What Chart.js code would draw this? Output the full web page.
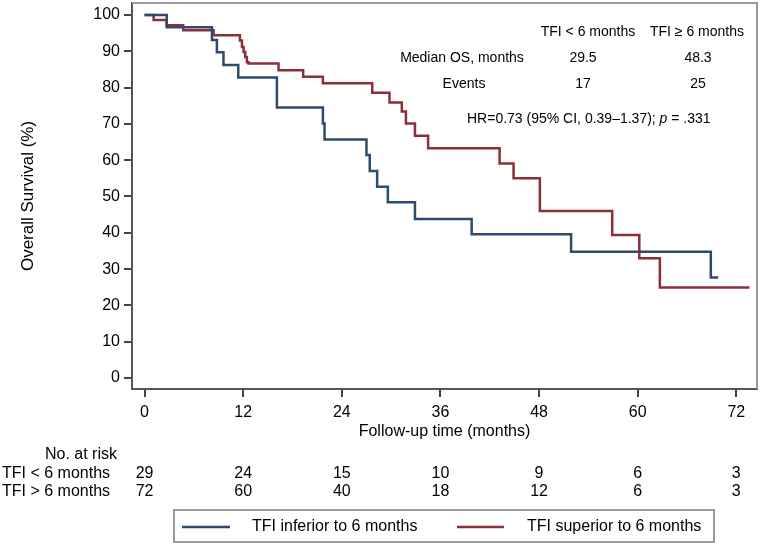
<!DOCTYPE html>
<html>
<head>
<meta charset="utf-8">
<script src="https://cdn.jsdelivr.net/npm/chart.js@4.4.1/dist/chart.umd.min.js"></script>
<style>
  html, body { margin: 0; padding: 0; background: #fff; }
  #wrap { width: 765px; height: 546px; }
</style>
</head>
<body>
<div id="wrap"><canvas id="km" width="765" height="546"></canvas></div>
<script>
// Kaplan-Meier overall survival by TFI group
const lowTimes = [0, 2.7, 8.2, 8.8, 9.6, 11.4, 16.1, 21.7, 21.9, 27.0, 27.4, 28.3, 29.6, 32.9, 39.8, 51.9, 68.9, 69.8];
const lowSurv  = [100, 96.6, 93.1, 89.7, 86.2, 82.8, 74.5, 70.1, 65.7, 61.4, 57.0, 52.7, 48.4, 43.8, 39.6, 34.8, 27.7, 27.7];

const highTimes = [0, 1.1, 2.7, 4.7, 8.4, 11.6, 11.85, 12.05, 12.25, 12.45, 12.65, 16.3, 19.3, 21.7, 27.7, 29.8, 31.3, 31.8, 32.9, 34.5, 43.2, 44.9, 48.1, 56.9, 60.2, 62.7, 73.6];
const highSurv  = [100, 98.6, 97.2, 95.8, 94.4, 93.0, 91.2, 89.8, 88.4, 87.0, 86.6, 84.8, 83.0, 81.2, 78.6, 75.9, 73.4, 70.1, 66.7, 63.3, 59.1, 55.0, 46.0, 39.4, 33.0, 24.9, 24.9];

const xTicks = [0, 12, 24, 36, 48, 60, 72];
const yTicks = [0, 10, 20, 30, 40, 50, 60, 70, 80, 90, 100];

// number at risk table
const riskTimes = [0, 12, 24, 36, 48, 60, 72];
const riskLow   = [29, 24, 15, 10, 9, 6, 3];
const riskHigh  = [72, 60, 40, 18, 12, 6, 3];
const riskLabels = ['TFI < 6 months', 'TFI > 6 months'];

const legendLabels = ['TFI inferior to 6 months', 'TFI superior to 6 months'];
const seriesColors = ['#2d4a6f', '#8d2f3b'];

// summary box
const groupHeads = ['TFI < 6 months', 'TFI \u2265 6 months'];
const medianOS = ['29.5', '48.3'];
const events = ['17', '25'];

const FONT = "'Liberation Sans', Arial, Helvetica, sans-serif";

function toPoints(ts, vs){
  return ts.map((t,i)=>({x:t, y:vs[i]}));
}

// draws the frame, summary text, risk table and legend
const overlay = {
  id: 'overlay',
  afterDraw(chart){
    const ctx = chart.ctx;
    const a = chart.chartArea;
    const xs = chart.scales.x;
    ctx.save();

    // top and right edge of plot region
    ctx.strokeStyle = '#999';
    ctx.lineWidth = 2;
    ctx.beginPath();
    ctx.moveTo(a.left, a.top);
    ctx.lineTo(a.right, a.top);
    ctx.lineTo(a.right, a.bottom);
    ctx.stroke();

    ctx.fillStyle = '#000';
    ctx.textBaseline = 'middle';

    // summary table
    ctx.font = '14px ' + FONT;
    ctx.textAlign = 'center';
    ctx.fillText(groupHeads[0], 588, 32);
    ctx.fillText(groupHeads[1], 697, 32);
    ctx.fillText('Median OS, months', 462, 58);
    ctx.fillText(medianOS[0], 583, 58);
    ctx.fillText(medianOS[1], 698, 58);
    ctx.fillText('Events', 464, 84);
    ctx.fillText(events[0], 583, 84);
    ctx.fillText(events[1], 698, 84);

    ctx.textAlign = 'left';
    let hx = 467;
    const part1 = 'HR=0.73 (95% CI, 0.39\u20131.37); ';
    ctx.fillText(part1, hx, 119);
    hx += ctx.measureText(part1).width;
    ctx.font = 'italic 14px ' + FONT;
    ctx.fillText('p', hx, 119);
    hx += ctx.measureText('p').width;
    ctx.font = '14px ' + FONT;
    ctx.fillText(' = .331', hx, 119);

    // number at risk
    ctx.font = '16px ' + FONT;
    ctx.textAlign = 'right';
    ctx.fillText('No. at risk', 117, 455);
    ctx.textAlign = 'left';
    ctx.fillText(riskLabels[0], 2, 474);
    ctx.fillText(riskLabels[1], 2, 492);
    ctx.textAlign = 'center';
    riskTimes.forEach((t,i)=>{
      const px = xs.getPixelForValue(t);
      ctx.fillText(String(riskLow[i]), px, 474);
      ctx.fillText(String(riskHigh[i]), px, 492);
    });

    // legend
    ctx.strokeStyle = '#999';
    ctx.lineWidth = 2;
    ctx.strokeRect(174, 510, 540, 32);
    ctx.lineWidth = 2.5;
    ctx.strokeStyle = seriesColors[0];
    ctx.beginPath(); ctx.moveTo(182, 527); ctx.lineTo(230, 527); ctx.stroke();
    ctx.strokeStyle = seriesColors[1];
    ctx.beginPath(); ctx.moveTo(457, 527); ctx.lineTo(504, 527); ctx.stroke();
    ctx.textAlign = 'left';
    ctx.fillText(legendLabels[0], 252, 527);
    ctx.fillText(legendLabels[1], 527, 527);

    ctx.restore();
  }
};

new Chart(document.getElementById('km'), {
  type: 'line',
  data: {
    datasets: [
      { label: legendLabels[0], data: toPoints(lowTimes, lowSurv), borderColor: seriesColors[0] },
      { label: legendLabels[1], data: toPoints(highTimes, highSurv), borderColor: seriesColors[1] }
    ]
  },
  options: {
    responsive: false,
    animation: false,
    events: [],
    layout: { padding: { left: 0, top: 3, right: 8, bottom: 103 } },
    elements: {
      line: { stepped: true, borderWidth: 2.5, fill: false, tension: 0 },
      point: { radius: 0 }
    },
    plugins: { legend: { display: false }, tooltip: { enabled: false } },
    scales: {
      x: {
        type: 'linear',
        min: -1.53, max: 74.52,
        afterBuildTicks: s => { s.ticks = xTicks.map(v=>({value:v})); },
        afterFit: s => { s.height = 54; s.paddingLeft = 0; s.paddingRight = 0; },
        ticks: { font: { size: 16, family: FONT }, color: '#000', padding: 6, maxRotation: 0, autoSkip: false },
        grid: { drawOnChartArea: false, drawTicks: true, tickLength: 8, color: '#444', lineWidth: 2 },
        border: { display: true, color: '#555', width: 2 },
        title: { display: true, text: 'Follow-up time (months)', font: { size: 16, family: FONT }, color: '#000', padding: { top: 0, bottom: 2 } }
      },
      y: {
        type: 'linear',
        min: -3.03, max: 103.3,
        afterBuildTicks: s => { s.ticks = yTicks.map(v=>({value:v})); },
        afterFit: s => { s.width = 132; s.paddingTop = 0; s.paddingBottom = 0; },
        ticks: { font: { size: 16, family: FONT }, color: '#000', padding: 4, autoSkip: false },
        grid: { drawOnChartArea: false, drawTicks: true, tickLength: 8, color: '#444', lineWidth: 2 },
        border: { display: true, color: '#555', width: 2 },
        title: { display: true, text: 'Overall Survival (%)', font: { size: 17, family: FONT }, color: '#000', padding: { top: 18, bottom: 0 } }
      }
    }
  },
  plugins: [overlay]
});
</script>
</body>
</html>
